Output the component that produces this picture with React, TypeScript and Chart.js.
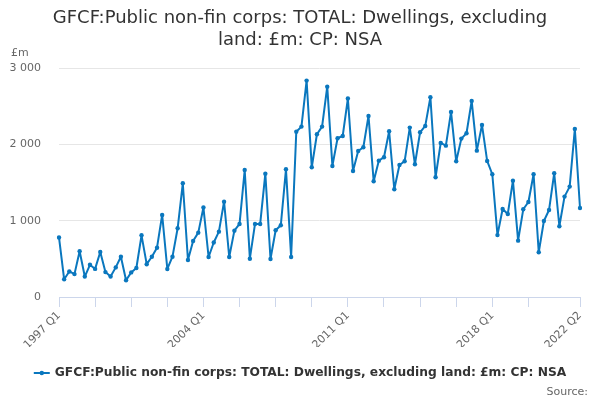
import React, { useEffect, useRef } from 'react';
import { Chart, registerables } from 'chart.js';

Chart.register(...registerables);

// quarter labels 1997 Q1 .. 2022 Q2
const quarters: string[] = [];
for (let y = 1997; y <= 2022; y++) {
  for (let q = 1; q <= 4; q++) {
    if (y === 2022 && q > 2) break;
    quarters.push(`${y} Q${q}`);
  }
}

const shownLabels = ['1997 Q1', '2004 Q1', '2011 Q1', '2018 Q1', '2022 Q2'];
const tickMarkLabels = [
  '1997 Q1', '1998 Q4', '2000 Q3', '2002 Q2', '2004 Q1', '2005 Q4', '2007 Q3',
  '2009 Q2', '2011 Q1', '2012 Q4', '2014 Q3', '2016 Q2', '2018 Q1', '2019 Q4', '2022 Q2',
];

const dwellings = [
  780, 232, 335, 300, 600, 268, 422, 368, 590, 326, 268, 388, 528, 220, 322, 380,
  808, 430, 528, 646, 1075, 367, 528, 900, 1490, 485, 734, 843, 1172, 524, 714, 856,
  1249, 524, 869, 957, 1664, 502, 957, 957, 1616, 498, 874, 940, 1673, 524, 2166, 2232,
  2835, 1700, 2132, 2232, 2756, 1717, 2080, 2110, 2600, 1651, 1913, 1962, 2372, 1516, 1786, 1831,
  2171, 1411, 1730, 1778, 2219, 1739, 2158, 2241, 2617, 1569, 2018, 1983, 2425, 1778, 2075, 2145,
  2569, 1917, 2254, 1782, 1608, 811, 1153, 1088, 1524, 738, 1149, 1245, 1608, 586, 996, 1140,
  1621, 927, 1315, 1446, 2202, 1166,
];

const TITLE = ['GFCF:Public non-fin corps: TOTAL: Dwellings, excluding', 'land: £m: CP: NSA'];
const SERIES_NAME = 'GFCF:Public non-fin corps: TOTAL: Dwellings, excluding land: £m: CP: NSA';
const LINE_COLOR = '#0a77be';
const FONT = '"DejaVu Sans", sans-serif';

const textPlugin = {
  id: 'texts',
  afterDraw(chart: Chart) {
    const { ctx } = chart;
    ctx.save();
    ctx.textBaseline = 'middle';

    ctx.fillStyle = '#333333';
    ctx.textAlign = 'center';
    ctx.font = `18px ${FONT}`;
    TITLE.forEach((t, i) => ctx.fillText(t, 300, 18 + i * 22));

    ctx.fillStyle = '#666666';
    ctx.textAlign = 'left';
    ctx.font = `11px ${FONT}`;
    ctx.fillText('£m', 11, 53);

    ctx.textAlign = 'right';
    ctx.fillText('Source:', 588, 392);

    // legend
    ctx.font = `bold 12.25px ${FONT}`;
    const w = ctx.measureText(SERIES_NAME).width;
    const symW = 16;
    const gap = 5;
    const x0 = 300 - (symW + gap + w) / 2;
    const ly = 373;
    ctx.strokeStyle = LINE_COLOR;
    ctx.lineWidth = 2;
    ctx.beginPath();
    ctx.moveTo(x0, ly);
    ctx.lineTo(x0 + symW, ly);
    ctx.stroke();
    ctx.fillStyle = LINE_COLOR;
    ctx.beginPath();
    ctx.arc(x0 + symW / 2, ly, 2.2, 0, Math.PI * 2);
    ctx.fill();
    ctx.fillStyle = '#333333';
    ctx.textAlign = 'left';
    ctx.fillText(SERIES_NAME, x0 + symW + gap, ly);
    ctx.restore();
  },
};

function DwellingsChart() {
  const ref = useRef<HTMLCanvasElement>(null);

  useEffect(() => {
    document.body.style.margin = '0';
    const chart = new Chart(ref.current!, {
      type: 'line',
      data: {
        labels: quarters,
        datasets: [
          {
            label: SERIES_NAME,
            data: dwellings,
            borderColor: LINE_COLOR,
            backgroundColor: LINE_COLOR,
            borderWidth: 2,
            borderJoinStyle: 'round',
            borderCapStyle: 'round',
            pointRadius: 2.2,
            pointBorderWidth: 0,
            pointHoverRadius: 2.2,
            tension: 0,
          },
        ],
      },
      options: {
        animation: false,
        responsive: true,
        maintainAspectRatio: false,
        layout: { padding: { top: 68, right: 20, bottom: 53, left: 0 } },
        plugins: {
          legend: { display: false },
          title: { display: false },
          tooltip: { enabled: false },
        },
        scales: {
          x: {
            type: 'category',
            offset: false,
            afterFit: (scale: any) => {
              scale.height = 50;
            },
            border: { color: '#ccd6eb', width: 1 },
            grid: {
              drawOnChartArea: false,
              tickLength: 10,
              tickColor: (c: any) =>
                tickMarkLabels.includes(quarters[c.index]) ? '#ccd6eb' : 'rgba(0,0,0,0)',
            },
            ticks: {
              autoSkip: false,
              maxRotation: 45,
              minRotation: 45,
              padding: 2,
              color: '#666666',
              font: { family: FONT, size: 11 },
              callback: (_v: any, i: number) =>
                shownLabels.includes(quarters[i]) ? quarters[i] : '',
            },
          },
          y: {
            min: 0,
            max: 3000,
            afterFit: (scale: any) => {
              scale.width = 59;
            },
            border: { display: false },
            grid: { color: '#e6e6e6', drawTicks: false },
            ticks: {
              stepSize: 1000,
              padding: 18,
              color: '#666666',
              font: { family: FONT, size: 11 },
              callback: (v: any) => String(v).replace(/\B(?=(\d{3})+(?!\d))/g, ' '),
            },
          },
        },
      },
      plugins: [textPlugin],
    });
    return () => {
      chart.destroy();
    };
  }, []);

  return (
    <div style={{ position: 'relative', width: 600, height: 400 }}>
      <canvas ref={ref} />
    </div>
  );
}

export default function App() {
  return <DwellingsChart />;
}
